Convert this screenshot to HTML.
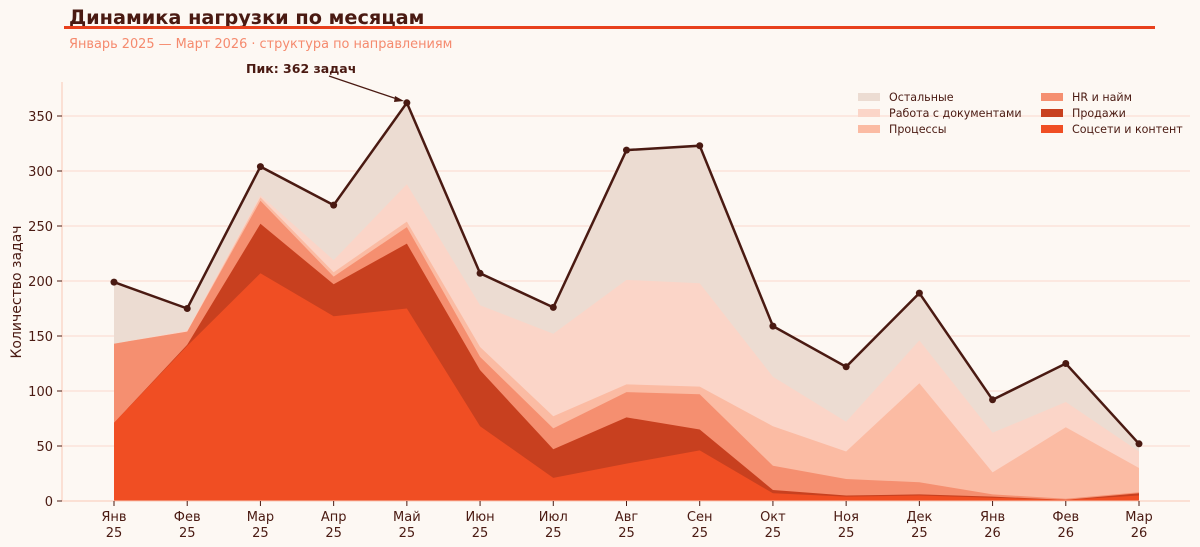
<!DOCTYPE html>
<html><head><meta charset="utf-8"><style>
body{margin:0;background:#fdf8f3;}
svg{display:block;font-family:"DejaVu Sans","Liberation Sans",sans-serif;}
</style></head><body>
<svg id="c" width="1200" height="547" xmlns="http://www.w3.org/2000/svg">
<rect width="1200" height="547" fill="#fdf8f3"/>
<text x="69" y="24" font-size="19.3" font-weight="bold" fill="#4a1a12">Динамика нагрузки по месяцам</text>
<rect x="64" y="26" width="1091" height="3" fill="#e8401c"/>
<text x="69" y="48" font-size="12.9" fill="#f58a6e">Январь 2025 — Март 2026 · структура по направлениям</text>
<g id="grid"></g>
<g id="areas"></g>
<g id="line"></g>
<line x1="62" y1="82" x2="62" y2="501" stroke="#f9c7b6" stroke-width="1"/>
<line x1="62" y1="501" x2="1190" y2="501" stroke="#f9c7b6" stroke-width="1"/>
<text x="246" y="73" font-size="12.5" font-weight="bold" fill="#4a1a12">Пик: 362 задач</text>
<line x1="329" y1="76" x2="400" y2="100" stroke="#4a1a12" stroke-width="1.3"/>
<path d="M404,101 L395,96 L394,102 Z" fill="#4a1a12"/>
<text transform="translate(21,292) rotate(-90)" text-anchor="middle" font-size="14" fill="#4a1a12">Количество задач</text>
<g font-size="11.1" fill="#4a1a12">
<rect x="858" y="93" width="22" height="8" fill="#ecdcd2"/><text x="889" y="101">Остальные</text>
<rect x="858" y="109" width="22" height="8" fill="#fbd5c8"/><text x="889" y="117">Работа с документами</text>
<rect x="858" y="125" width="22" height="8" fill="#fbbba3"/><text x="889" y="133">Процессы</text>
<rect x="1041" y="93" width="22" height="8" fill="#f58f70"/><text x="1072" y="101">HR и найм</text>
<rect x="1041" y="109" width="22" height="8" fill="#c8401f"/><text x="1072" y="117">Продажи</text>
<rect x="1041" y="125" width="22" height="8" fill="#f04e23"/><text x="1072" y="133">Соцсети и контент</text>
</g>
<g id="ticks" font-size="13" fill="#4a1a12"></g>
</svg>
<script>
var cum=[
[71,141,207,168,175,68,21,34,46,7,4,5,3,1,5],
[71,142,252,197,234,119,47,76,65,10,5,6,4,1,7],
[143,154,273,204,249,131,66,99,97,32,20,17,6,2,8],
[143,154,276,208,254,140,77,106,104,68,45,107,26,67,30],
[143,155,278,219,288,178,152,201,198,113,72,146,62,90,45],
[199,175,304,269,362,207,176,319,323,159,122,189,92,125,52]];
var cols=["#f04e23","#c8401f","#f58f70","#fbbba3","#fbd5c8","#ecdcd2"];
var X=i=>114+i*73.214, Y=v=>501-1.1*v;
var ns="http://www.w3.org/2000/svg";
function el(p,t,a,txt){var e=document.createElementNS(ns,t);for(var k in a)e.setAttribute(k,a[k]);if(txt!=null)e.textContent=txt;document.getElementById(p).appendChild(e);}
for(var v=50;v<=350;v+=50)el("grid","line",{x1:62,x2:1190,y1:Y(v),y2:Y(v),stroke:"#fbd9cc","stroke-width":1});
for(var L=5;L>=0;L--){var d="M"+X(0)+","+Y(0);for(var i=0;i<15;i++)d+=" L"+X(i)+","+Y(cum[L][i]);d+=" L"+X(14)+","+Y(0)+" Z";el("areas","path",{d:d,fill:cols[L]});}
var d="";for(var i=0;i<15;i++)d+=(i?" L":"M")+X(i)+","+Y(cum[5][i]);
el("line","path",{d:d,fill:"none",stroke:"#4a1a12","stroke-width":2.5});
for(var i=0;i<15;i++)el("line","circle",{cx:X(i),cy:Y(cum[5][i]),r:3.5,fill:"#4a1a12"});
for(var v=0;v<=350;v+=50){el("ticks","text",{x:53,y:Y(v)+5,"text-anchor":"end"},v);el("ticks","line",{x1:57,x2:62,y1:Y(v),y2:Y(v),stroke:"#4a1a12"});}
var m=["Янв","Фев","Мар","Апр","Май","Июн","Июл","Авг","Сен","Окт","Ноя","Дек","Янв","Фев","Мар"];
for(var i=0;i<15;i++){el("ticks","line",{x1:X(i),x2:X(i),y1:501,y2:506,stroke:"#4a1a12"});el("ticks","text",{x:X(i),y:521,"text-anchor":"middle"},m[i]);el("ticks","text",{x:X(i),y:537,"text-anchor":"middle"},i<12?"25":"26");}
</script>
</body></html>
